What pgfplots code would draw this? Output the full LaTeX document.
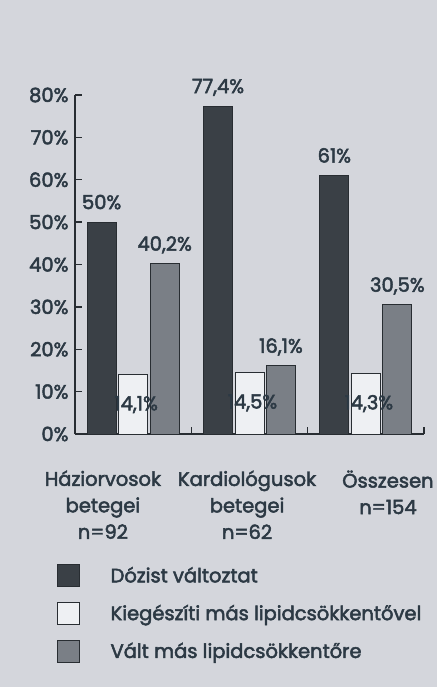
\documentclass[border=0pt]{standalone}
\usepackage{pgfplots}
\pgfplotsset{compat=1.18}
\usepackage{fontspec}
\setmainfont{Poppins}[FakeBold=2.5]
\definecolor{bg}{RGB}{212,214,220}
\definecolor{txt}{RGB}{44,57,68}
\definecolor{dark}{RGB}{58,64,70}
\definecolor{mid}{RGB}{122,127,134}
\definecolor{light}{RGB}{238,240,243}
\definecolor{edge}{RGB}{40,45,50}
\pgfplotsset{
  sq legend/.style={legend image code/.code={%
    \draw[##1, line width=0.8pt] (0pt,-11pt) rectangle (22pt,11pt);
    \path[draw=none, fill=none] (0pt,0pt) -- (53pt,0pt);}},
  toplab/.style={every node near coord/.append style={anchor=base, yshift=13pt}},
  botlab/.style={every node near coord/.append style={anchor=base, yshift=-36pt, xshift=3pt}},
}
\begin{document}
\begin{tikzpicture}
\fill[bg] (0,0) rectangle (437pt,-687pt);
\path[use as bounding box] (0,0) rectangle (437pt,-687pt);
\begin{axis}[
  at={(75pt,-434pt)}, anchor=south west,
  scale only axis, width=349pt, height=339pt,
  xmin=-0.5, xmax=2.5, ymin=0, ymax=80,
  axis x line*=bottom, axis y line*=left,
  axis line style={edge, line width=1.3pt, -},
  ytick={0,10,...,80},
  yticklabel={\pgfmathprintnumber{\tick}\%},
  /pgf/number format/assume math mode=true,
  xtick={0.5,1.5,2.5}, xticklabels={,,},
  extra x ticks={-0.26,0.979,2.19},
  extra x tick labels={{Háziorvosok\\betegei\\n=92},{Kardiológusok\\betegei\\n=62},{Összesen\\n=154}},
  extra x tick style={major tick length=0pt, tick label style={yshift=-33pt}},
  major tick length=7pt,
  tick style={edge, line width=1.3pt},
  tick label style={font=\fontsize{19.5}{26.5}\selectfont, text=txt},
  xticklabel style={align=center},
  yticklabel style={xshift=-3pt},
  ybar=2.5pt, bar width=29pt,
  clip=false,
  nodes near coords, point meta=explicit symbolic,
  every node near coord/.append style={font=\fontsize{19.5}{22}\selectfont, text=txt},
  legend style={at={(-0.0516,-0.383)}, anchor=north west, draw=none, fill=none,
    inner sep=0pt, row sep=15pt, font=\fontsize{19.5}{22}\selectfont, text=txt,
    nodes={inner sep=0pt, anchor=west}},
  legend cell align=left,
  xtick align=inside, ytick align=inside,
]
\addplot[fill=dark, draw=edge, line width=0.8pt, sq legend, toplab]
  coordinates {(0,50) [50\%] (1,77.4) [{77,4\%}] (2,61) [61\%]};
\addplot[fill=light, draw=edge, line width=0.8pt, sq legend, botlab]
  coordinates {(0,14.1) [{14,1\%}] (1,14.5) [{14,5\%}] (2,14.3) [{14,3\%}]};
\addplot[fill=mid, draw=edge, line width=0.8pt, sq legend, toplab]
  coordinates {(0,40.2) [{40,2\%}] (1,16.1) [{16,1\%}] (2,30.5) [{30,5\%}]};
\legend{Dózist változtat, Kiegészíti más lipidcsökkentővel, Vált más lipidcsökkentőre}
\end{axis}
\end{tikzpicture}
\end{document}
